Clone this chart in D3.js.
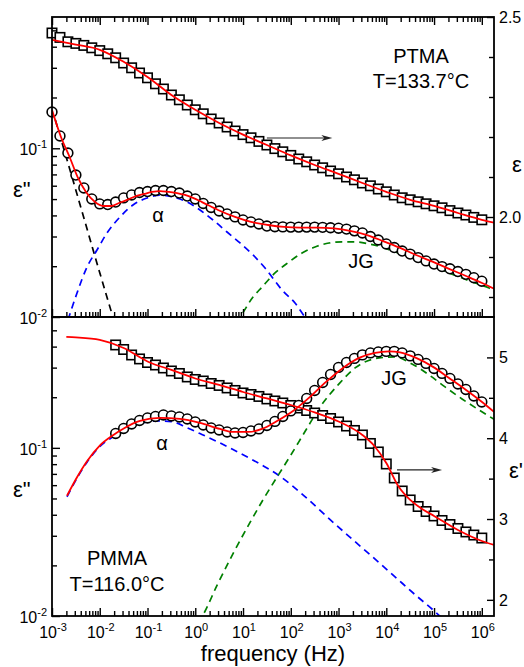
<!DOCTYPE html>
<html>
<head>
<meta charset="utf-8">
<script src="https://cdn.jsdelivr.net/npm/d3@7"></script>
<style>
  body { margin: 0; background: #fff; }
  text { font-family: "Liberation Sans", Arial, Helvetica, sans-serif; fill: #000; }
</style>
</head>
<body>
<svg id="chart" width="524" height="667"></svg>
<script>
// ---------------- PTMA, T = 133.7 °C ----------------
// measurement frequencies (log10 Hz)
const ptmaLogF = [-3, -2.833, -2.667, -2.5, -2.333, -2.167, -2, -1.833, -1.667, -1.5, -1.333, -1.167,
  -1, -0.833, -0.667, -0.5, -0.333, -0.167, 0, 0.167, 0.333, 0.5, 0.667, 0.833, 1, 1.167, 1.333, 1.5,
  1.667, 1.833, 2, 2.167, 2.333, 2.5, 2.667, 2.833, 3, 3.167, 3.333, 3.5, 3.667, 3.833, 4, 4.167,
  4.333, 4.5, 4.667, 4.833, 5, 5.167, 5.333, 5.5, 5.667, 5.833, 6];
// dielectric loss eps''
const ptmaLoss = [0.1641, 0.1183, 0.0938, 0.0694, 0.0582, 0.0501, 0.0468, 0.0464, 0.0480, 0.0508,
  0.0529, 0.0547, 0.0554, 0.0562, 0.0562, 0.0554, 0.0543, 0.0521, 0.0501, 0.0471, 0.0446, 0.0425,
  0.0408, 0.0392, 0.0376, 0.0366, 0.0356, 0.0346, 0.0343, 0.0342, 0.0341, 0.0341, 0.0341, 0.0341,
  0.0340, 0.0338, 0.0336, 0.0332, 0.0324, 0.0315, 0.0300, 0.0286, 0.0271, 0.0258, 0.0246, 0.0236,
  0.0225, 0.0215, 0.0206, 0.0199, 0.0193, 0.0186, 0.0179, 0.0171, 0.0163];
// permittivity eps'
const ptmaPerm = [2.460, 2.449, 2.438, 2.434, 2.429, 2.423, 2.416, 2.408, 2.398, 2.385, 2.373, 2.360,
  2.348, 2.333, 2.320, 2.305, 2.293, 2.280, 2.268, 2.258, 2.245, 2.235, 2.225, 2.215, 2.206, 2.198,
  2.189, 2.180, 2.171, 2.163, 2.154, 2.145, 2.138, 2.130, 2.123, 2.115, 2.108, 2.100, 2.093, 2.085,
  2.078, 2.070, 2.063, 2.055, 2.048, 2.043, 2.038, 2.033, 2.028, 2.023, 2.016, 2.010, 2.005, 1.999, 1.993];
// fitted curves: [log10 f, value]
const ptmaLossFit = [[-3, 0.1686], [-2.812, 0.1167], [-2.623, 0.0876], [-2.455, 0.0667], [-2.288, 0.0551],
  [-2.099, 0.0480], [-1.932, 0.0455], [-1.764, 0.0455], [-1.597, 0.0474], [-1.429, 0.0494], [-1.241, 0.0521],
  [-1.073, 0.0536], [-0.906, 0.0551], [-0.738, 0.0558], [-0.55, 0.0551], [-0.382, 0.0543], [-0.215, 0.0529],
  [-0.047, 0.0508], [0.141, 0.0480], [0.476, 0.0431], [0.832, 0.0392], [1.168, 0.0366], [1.524, 0.0351],
  [1.859, 0.0342], [2.194, 0.0339], [2.55, 0.0339], [2.906, 0.0335], [3.241, 0.0324], [3.597, 0.0306],
  [3.932, 0.0282], [4.288, 0.0257], [4.623, 0.0233], [4.979, 0.0212], [5.314, 0.0193], [5.67, 0.0175],
  [6.005, 0.0159], [6.257, 0.0147]];
const ptmaPermFit = [[-3, 2.443], [-2.5, 2.431], [-2, 2.418], [-1.5, 2.388], [-1, 2.350], [-0.5, 2.305],
  [0, 2.268], [0.5, 2.235], [1, 2.206], [1.5, 2.180], [2, 2.154], [2.5, 2.130], [3, 2.108], [3.5, 2.085],
  [4, 2.063], [4.5, 2.043], [5, 2.028], [5.5, 2.010], [6, 1.993], [6.257, 1.986]];
const ptmaAlpha = [[-2.665, 0.0096], [-2.476, 0.01387], [-2.267, 0.01977], [-2.058, 0.02494], [-1.848, 0.03148],
  [-1.576, 0.03917], [-1.304, 0.04613], [-1.01, 0.05074], [-0.738, 0.05283], [-0.466, 0.05141],
  [-0.173, 0.04804], [0.099, 0.04306], [0.372, 0.03756], [0.665, 0.0319], [0.937, 0.02746], [1.209, 0.02332],
  [1.461, 0.01952], [1.817, 0.01446], [2.089, 0.0121], [2.298, 0.01], [2.4, 0.0093]];
const ptmaJG = [[0.85, 0.0093], [0.937, 0.01], [1.209, 0.01314], [1.398, 0.01506], [1.67, 0.01824],
  [1.963, 0.02119], [2.236, 0.02395], [2.508, 0.026], [2.801, 0.02746], [3.073, 0.02786], [3.346, 0.02786],
  [3.639, 0.0271], [3.911, 0.026], [4.183, 0.02428], [4.476, 0.023], [4.749, 0.02119], [5.021, 0.01979],
  [5.314, 0.01824], [5.586, 0.01703], [5.859, 0.01591], [6.152, 0.01486], [6.257, 0.01446]];
const ptmaCond = [[-3, 0.172], [-2.5, 0.0564], [-2, 0.0183], [-1.72, 0.0099], [-1.65, 0.0085]];

// ---------------- PMMA, T = 116.0 °C ----------------
const pmmaLogF = [-1.667, -1.5, -1.333, -1.167, -1, -0.833, -0.667, -0.5, -0.333, -0.167, 0, 0.167,
  0.333, 0.5, 0.667, 0.833, 1, 1.167, 1.333, 1.5, 1.667, 1.833, 2, 2.167, 2.333, 2.5, 2.667, 2.833,
  3, 3.167, 3.333, 3.5, 3.667, 3.833, 4, 4.167, 4.333, 4.5, 4.667, 4.833, 5, 5.167, 5.333, 5.5,
  5.667, 5.833, 6];
const pmmaLoss = [0.1218, 0.1304, 0.1387, 0.1455, 0.1506, 0.1537, 0.1569, 0.1548, 0.1527, 0.1485,
  0.1426, 0.1368, 0.1313, 0.1278, 0.1243, 0.1226, 0.1235, 0.1260, 0.1296, 0.1359, 0.1436, 0.1537,
  0.1658, 0.1788, 0.1967, 0.2195, 0.2449, 0.2733, 0.3008, 0.3221, 0.3403, 0.3571, 0.3669, 0.3720,
  0.3747, 0.3747, 0.3669, 0.3522, 0.3357, 0.3178, 0.2967, 0.2771, 0.2588, 0.2399, 0.2225, 0.2036, 0.1875];
const pmmaPerm = [5.154, 5.098, 5.030, 4.981, 4.937, 4.906, 4.869, 4.832, 4.801, 4.758, 4.727, 4.708,
  4.677, 4.653, 4.622, 4.591, 4.560, 4.541, 4.517, 4.486, 4.461, 4.436, 4.405, 4.374, 4.343, 4.312,
  4.281, 4.244, 4.201, 4.151, 4.096, 4.040, 3.935, 3.830, 3.681, 3.508, 3.347, 3.236, 3.155, 3.093,
  3.038, 2.982, 2.932, 2.883, 2.840, 2.802, 2.765];
const pmmaLossFit = [[-2.686, 0.0519], [-2.476, 0.0668], [-2.267, 0.0832], [-1.995, 0.1035], [-1.723, 0.1189],
  [-1.471, 0.1318], [-1.157, 0.1445], [-0.738, 0.1506], [-0.319, 0.1485], [0.099, 0.1406], [0.518, 0.1296],
  [0.791, 0.1243], [1.105, 0.1243], [1.398, 0.1296], [1.712, 0.1445], [2.047, 0.1658], [2.403, 0.2009],
  [2.738, 0.2466], [3.094, 0.2987], [3.429, 0.3426], [3.764, 0.3669], [4.058, 0.3747], [4.288, 0.3695],
  [4.623, 0.3426], [4.979, 0.3030], [5.314, 0.2604], [5.67, 0.2211], [6.005, 0.1875], [6.257, 0.1636]];
const pmmaPermFit = [[-2.7, 5.253], [-2.5, 5.247], [-2, 5.216], [-1.5, 5.117], [-1, 4.950], [-0.5, 4.845],
  [0, 4.739], [0.5, 4.659], [1, 4.572], [1.5, 4.492], [2, 4.411], [2.5, 4.319], [3, 4.207], [3.5, 4.040],
  [3.75, 3.904], [4, 3.694], [4.25, 3.409], [4.5, 3.236], [4.75, 3.124], [5, 3.038], [5.5, 2.864],
  [6, 2.728], [6.257, 2.679]];
const pmmaAlpha = [[-2.686, 0.0512], [-2.476, 0.0660], [-2.267, 0.0822], [-1.995, 0.1020], [-1.723, 0.1165],
  [-1.471, 0.1290], [-1.157, 0.1400], [-0.738, 0.1445], [-0.466, 0.1426], [-0.173, 0.1318], [0.099, 0.1216],
  [0.455, 0.1091], [0.791, 0.0977], [1.147, 0.0865], [1.398, 0.0789], [1.754, 0.0684], [2.298, 0.0513],
  [2.801, 0.0379], [3.283, 0.0287], [3.702, 0.0226], [4.183, 0.0171], [4.602, 0.0134], [5.021, 0.0106],
  [5.23, 0.00934]];
const pmmaJG = [[0.058, 0.0091], [0.162, 0.01014], [0.455, 0.0152], [0.791, 0.0235], [1.147, 0.036],
  [1.398, 0.048], [1.754, 0.070], [1.984, 0.089], [2.298, 0.125], [2.613, 0.175], [2.99, 0.2367],
  [3.346, 0.2987], [3.848, 0.3426], [4.183, 0.3474], [4.539, 0.3156], [4.895, 0.2715], [5.23, 0.2303],
  [5.586, 0.1954], [5.942, 0.168], [6.277, 0.1466]];

// ---------------- axes ----------------
const xTickExponents = [-3, -2, -1, 0, 1, 2, 3, 4, 5, 6];
const lossTickExponents = [-2, -1];
const ptmaPermTicks = [2.0, 2.5];
const ptmaPermMinor = [1.8, 1.9, 2.1, 2.2, 2.3, 2.4];
const pmmaPermTicks = [2, 3, 4, 5];
const pmmaPermMinor = [2.5, 3.5, 4.5];

const svg = d3.select("#chart");
const X0 = 52, X1 = 494, TOP = 17, MID = 317, BOT = 616;
const x = d3.scaleLog().domain([1e-3, 1.8e6]).range([X0, X1]);
const fx = lf => x(Math.pow(10, lf));

const xMajor = xTickExponents.map(e => Math.pow(10, e));
const xMinor = [];
xTickExponents.forEach(e => { for (let d = 2; d <= 9; d++) { const v = d * Math.pow(10, e); if (v < 1.8e6) xMinor.push(v); } });
const lossMinor = [];
[0.01, 0.1].forEach(b => { for (let d = 2; d <= 9; d++) { const v = d * b; if (v < 0.595) lossMinor.push(v); } });

const COLORS = { fit: "#ff0000", alpha: "#0000ff", jg: "#008000", cond: "#000000" };

function tickGroup(axis, tx, ty) {
  const g = svg.append("g").attr("transform", `translate(${tx},${ty})`).call(axis);
  g.select(".domain").remove();
  g.selectAll("line").attr("stroke", "#000").attr("stroke-width", 1.4);
  g.selectAll("text").remove();
  return g;
}

function drawPanel(p) {
  const clipId = "clip-" + p.id;
  svg.append("clipPath").attr("id", clipId)
    .append("rect").attr("x", X0).attr("y", p.y0).attr("width", X1 - X0).attr("height", p.y1 - p.y0);

  const lossLine = d3.line().x(d => fx(d[0])).y(d => p.loss(d[1])).curve(d3.curveMonotoneX);
  const permLine = d3.line().x(d => fx(d[0])).y(d => p.perm(d[1])).curve(d3.curveMonotoneX);

  // relaxation components (dashed), beneath the data
  const comps = svg.append("g").attr("clip-path", `url(#${clipId})`);
  p.components.forEach(c => {
    comps.append("path").datum(c.data).attr("d", lossLine)
      .attr("fill", "none").attr("stroke", c.color).attr("stroke-width", 1.7)
      .attr("stroke-dasharray", "7,5");
  });

  // measured eps' (squares)
  svg.append("g").selectAll("rect").data(p.logF.map((lf, i) => [lf, p.permData[i]])).join("rect")
    .attr("x", d => fx(d[0]) - 4.7).attr("y", d => p.perm(d[1]) - 4.7)
    .attr("width", 9.4).attr("height", 9.4)
    .attr("fill", "#fff").attr("stroke", "#000").attr("stroke-width", 1.6);
  // measured eps'' (circles)
  svg.append("g").selectAll("circle").data(p.logF.map((lf, i) => [lf, p.lossData[i]])).join("circle")
    .attr("cx", d => fx(d[0])).attr("cy", d => p.loss(d[1])).attr("r", 4.9)
    .attr("fill", "#fff").attr("stroke", "#000").attr("stroke-width", 1.6);

  // fits, above the data
  const fits = svg.append("g").attr("clip-path", `url(#${clipId})`);
  fits.append("path").datum(p.permFit).attr("d", permLine)
    .attr("fill", "none").attr("stroke", COLORS.fit).attr("stroke-width", 1.8);
  fits.append("path").datum(p.lossFit).attr("d", lossLine)
    .attr("fill", "none").attr("stroke", COLORS.fit).attr("stroke-width", 1.8);

  // left (loss) ticks, inward
  tickGroup(d3.axisRight(p.loss).tickValues(lossTickExponents.map(e => Math.pow(10, e))).tickSize(8), X0, 0);
  tickGroup(d3.axisRight(p.loss).tickValues(lossMinor).tickSize(5), X0, 0);
  // right (permittivity) ticks, inward
  tickGroup(d3.axisLeft(p.perm).tickValues(p.permTicks).tickSize(7), X1, 0);
  tickGroup(d3.axisLeft(p.perm).tickValues(p.permMinor).tickSize(5), X1, 0);

  // loss tick labels
  lossTickExponents.forEach(e => {
    const t = svg.append("text").attr("x", X0 - 5).attr("y", p.loss(Math.pow(10, e)) + 7)
      .attr("text-anchor", "end").attr("font-size", 16);
    t.append("tspan").text("10");
    t.append("tspan").attr("font-size", 11).attr("dy", -7).text(e < 0 ? "-" + Math.abs(e) : e);
  });
  // permittivity tick labels
  p.permTicks.forEach(v => {
    svg.append("text").attr("x", X1 + 5).attr("y", p.perm(v) + 6)
      .attr("font-size", 16).text(p.permFormat(v));
  });

  // frame
  svg.append("rect").attr("x", X0).attr("y", p.y0).attr("width", X1 - X0).attr("height", p.y1 - p.y0)
    .attr("fill", "none").attr("stroke", "#000").attr("stroke-width", 1.8);
}

const panels = [
  {
    id: "ptma", y0: TOP, y1: MID,
    loss: d3.scaleLog().domain([0.01, 0.6]).range([MID, TOP]),
    perm: d3.scaleLinear().domain([1.75, 2.5]).range([MID, TOP]),
    logF: ptmaLogF, lossData: ptmaLoss, permData: ptmaPerm,
    lossFit: ptmaLossFit, permFit: ptmaPermFit,
    components: [
      { data: ptmaCond, color: COLORS.cond },
      { data: ptmaAlpha, color: COLORS.alpha },
      { data: ptmaJG, color: COLORS.jg }
    ],
    permTicks: ptmaPermTicks, permMinor: ptmaPermMinor, permFormat: d3.format(".1f")
  },
  {
    id: "pmma", y0: MID, y1: BOT,
    loss: d3.scaleLog().domain([0.01, 0.6]).range([BOT, MID]),
    perm: d3.scaleLinear().domain([1.8, 5.5]).range([BOT, MID]),
    logF: pmmaLogF, lossData: pmmaLoss, permData: pmmaPerm,
    lossFit: pmmaLossFit, permFit: pmmaPermFit,
    components: [
      { data: pmmaAlpha, color: COLORS.alpha },
      { data: pmmaJG, color: COLORS.jg }
    ],
    permTicks: pmmaPermTicks, permMinor: pmmaPermMinor, permFormat: d3.format("d")
  }
];
panels.forEach(drawPanel);

// frequency ticks: top edge (down), middle and bottom edges (up)
[[d3.axisBottom, TOP], [d3.axisTop, MID], [d3.axisTop, BOT]].forEach(([ax, y]) => {
  tickGroup(ax(x).tickValues(xMajor).tickSize(8), 0, y);
  tickGroup(ax(x).tickValues(xMinor).tickSize(5), 0, y);
});

// frequency tick labels
xTickExponents.forEach(e => {
  const t = svg.append("text").attr("x", x(Math.pow(10, e)) + 1).attr("y", 638)
    .attr("text-anchor", "middle").attr("font-size", 16);
  t.append("tspan").text("10");
  t.append("tspan").attr("font-size", 11).attr("dy", -7).text(e < 0 ? "-" + Math.abs(e) : e);
});

// axis titles
svg.append("text").attr("x", 273).attr("y", 661).attr("text-anchor", "middle").attr("font-size", 22)
  .text("frequency (Hz)");
svg.append("text").attr("x", 13).attr("y", 197).attr("font-size", 22).text('ε"');
svg.append("text").attr("x", 13).attr("y", 497).attr("font-size", 22).text('ε"');
svg.append("text").attr("x", 512).attr("y", 172).attr("font-size", 22).text("ε");
svg.append("text").attr("x", 509).attr("y", 478).attr("font-size", 22).text("ε'");

// sample annotations
const note = (tx, ty, s, size) => svg.append("text").attr("x", tx).attr("y", ty)
  .attr("text-anchor", "middle").attr("font-size", size || 20).text(s);
note(421, 63, "PTMA");
note(421, 88, "T=133.7°C");
note(117, 565, "PMMA");
note(117, 591, "T=116.0°C");
note(158, 222, "α");
note(361, 268, "JG");
note(162, 450, "α");
note(394, 385, "JG");

// arrows pointing to the permittivity axis
function arrow(lf0, lf1, yPx) {
  const xa = fx(lf0), xb = fx(lf1);
  svg.append("line").attr("x1", xa).attr("x2", xb - 6).attr("y1", yPx).attr("y2", yPx)
    .attr("stroke", "#222").attr("stroke-width", 1.2);
  svg.append("path").attr("d", `M${xb},${yPx} L${xb - 11},${yPx - 3} L${xb - 8},${yPx} L${xb - 11},${yPx + 3} Z`)
    .attr("fill", "#222");
}
arrow(1.5, 2.87, panels[0].perm(2.1975));
arrow(4.225, 5.168, panels[1].perm(3.607));
</script>
</body>
</html>
